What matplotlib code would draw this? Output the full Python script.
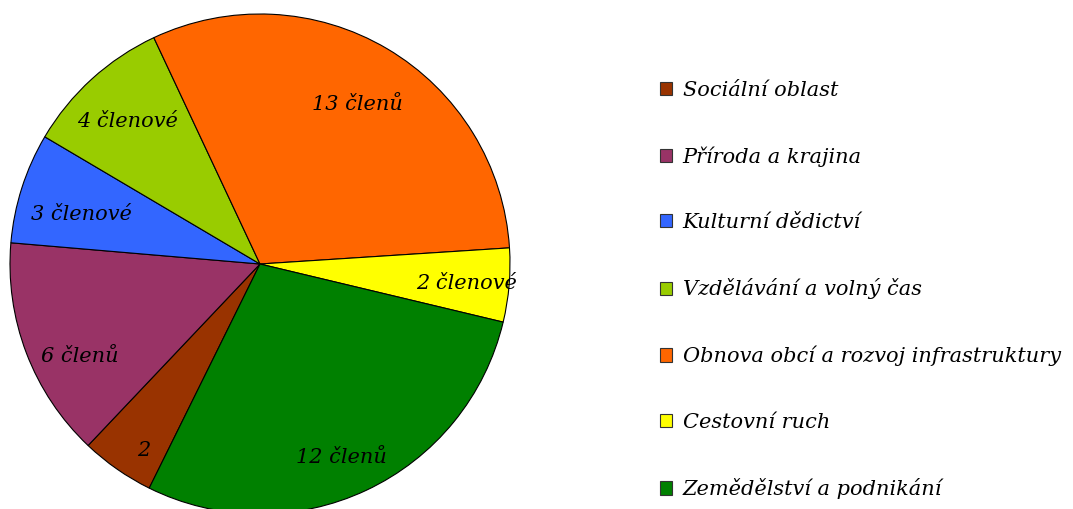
import numpy as np
import matplotlib.pyplot as plt
from matplotlib.patches import Patch

categories = [
    "Sociální oblast",
    "Příroda a krajina",
    "Kulturní dědictví",
    "Vzdělávání a volný čas",
    "Obnova obcí a rozvoj infrastruktury",
    "Cestovní ruch",
    "Zemědělství a podnikání",
]
members = [2, 6, 3, 4, 13, 2, 12]
slice_labels = ["2", "6 členů", "3 členové", "4 členové", "13 členů", "2 členové", "12 členů"]
colors = ["#993300", "#993366", "#3366FF", "#99CC00", "#FF6600", "#FFFF00", "#008000"]

# label placement tweaks: distance from centre (fraction of radius) and angle shift (deg)
label_dist = [0.88, 0.81, 0.74, 0.78, 0.75, 0.83, 0.84]
label_shift = [3.0, 6.4, 2.2, 0.6, -0.9, -0.5, -2.3]

plt.rcParams["font.family"] = ["DejaVu Serif"]

fig = plt.figure(figsize=(10.73, 5.09), dpi=100)
ax = fig.add_axes([10 / 1073, -5 / 509, 500 / 1073, 500 / 509])

wedges, texts = ax.pie(
    members,
    labels=slice_labels,
    colors=colors,
    startangle=243.7,
    counterclock=False,
    labeldistance=0.8,
    radius=1,
    wedgeprops=dict(edgecolor="black", linewidth=0.8),
    textprops=dict(fontsize=15, style="italic", color="black"),
)
for w, t, d, s in zip(wedges, texts, label_dist, label_shift):
    mid = np.deg2rad((w.theta1 + w.theta2) / 2 + s)
    t.set_position((d * np.cos(mid), d * np.sin(mid)))
    t.set_ha("center")
    t.set_va("center")
ax.set_xlim(-1, 1)
ax.set_ylim(-1, 1)
ax.set_aspect("equal")
ax.axis("off")

handles = [Patch(facecolor=c, edgecolor="#333333", linewidth=0.8) for c in colors]
fig.legend(
    handles,
    categories,
    loc="center left",
    bbox_to_anchor=(641 / 1073, 219 / 509),
    frameon=False,
    prop=dict(size=15, style="italic"),
    handlelength=0.6,
    handleheight=0.6,
    handletextpad=0.5,
    labelspacing=2.23,
)

fig.savefig("out.png", dpi=100)
